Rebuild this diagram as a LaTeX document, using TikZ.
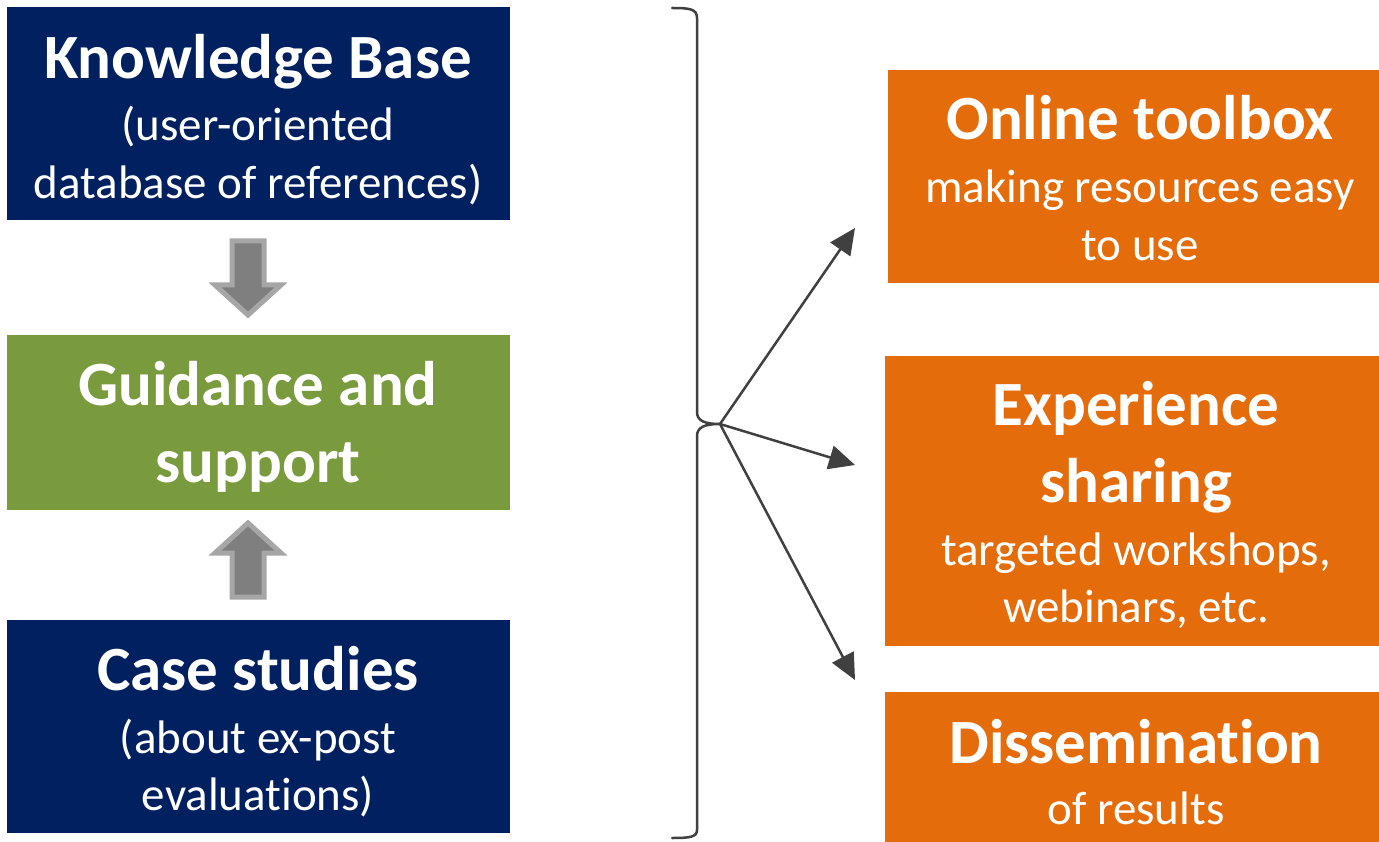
\documentclass[tikz,border=0pt]{standalone}
\usepackage{fontspec}
\setmainfont{Carlito}[Ligatures={NoCommon,NoContextual},RawFeature={-liga;-calt;-clig}]
\usetikzlibrary{arrows.meta}
\definecolor{navy}{HTML}{002060}
\definecolor{olive}{HTML}{7A9A3E}
\definecolor{orng}{HTML}{E46C0A}
\definecolor{dgray}{HTML}{404040}
\definecolor{agray}{HTML}{7F7F7F}
\definecolor{lgray}{HTML}{A6A6A6}
\newcommand{\nolig}{\kern0pt }
\tikzset{
  box/.style={draw=none,inner sep=0pt,anchor=north west},
  big/.style={anchor=base,text=white,inner sep=0pt,font=\fontsize{63}{75}\selectfont\bfseries},
  small/.style={anchor=base,text=white,inner sep=0pt,font=\fontsize{47}{58}\selectfont},
  conn/.style={draw=dgray,line width=2.5pt,-{Triangle[length=26pt,width=24pt]}},
  blockarrow/.style={fill=agray,draw=lgray,line width=5pt,line join=miter},
}
\begin{document}
\begin{tikzpicture}[x=1pt,y=-1pt]
\useasboundingbox (0,0) rectangle (1379,842);
% boxes
\node[box,fill=navy,minimum width=503pt,minimum height=213pt] (kb) at (7,7) {};
\node[box,fill=olive,minimum width=503pt,minimum height=175pt] (gs) at (7,335) {};
\node[box,fill=navy,minimum width=503pt,minimum height=213pt] (cs) at (7,620) {};
\node[box,fill=orng,minimum width=491pt,minimum height=213pt] (ot) at (888,70) {};
\node[box,fill=orng,minimum width=494pt,minimum height=290pt] (es) at (885,356) {};
\node[box,fill=orng,minimum width=494pt,minimum height=150pt] (ds) at (885,692) {};
% texts
\node[big] (t1) at (258,79) {Knowledge Base};
\node[small] (t2) at (258,141) {(user-oriented};
\node[small] (t3) at (258,199) {database of references)};
\node[big] (t4) at (258,405) {Guidance and};
\node[big] (t5) at (258,482) {support};
\node[big] (t6) at (258,690) {Case studies};
\node[small] (t7) at (258,753) {(about ex-post};
\node[small] (t8) at (258,810) {evaluat\nolig ions)};
\node[big] (t9) at (1140,140) {Online toolbox};
\node[small] (t10) at (1140,203) {making resources easy};
\node[small] (t11) at (1140,261) {to use};
\node[big] (t12) at (1136,425) {Experience};
\node[big] (t13) at (1136,502) {sharing};
\node[small] (t14) at (1136,565) {targeted workshops,};
\node[small] (t15) at (1136,622) {webinars, etc.};
\node[big] (t16) at (1136,763) {Disseminat\nolig ion};
\node[small] (t17) at (1136,824) {of results};
% block arrows
\draw[blockarrow] (232,241) -- (264,241) -- (264,285) -- (281,285) -- (248,315) -- (215,285) -- (232,285) -- cycle;
\draw[blockarrow] (232,597) -- (264,597) -- (264,553) -- (281,553) -- (248,523) -- (215,553) -- (232,553) -- cycle;
% brace
\coordinate (tip) at (720,424);
\draw[dgray,line width=2.5pt,line cap=round]
  (672,8) .. controls (690,8) and (697,9) .. (697,18) -- (697,412)
  .. controls (697,421) and (705,424) .. (tip)
  .. controls (705,424) and (697,427) .. (697,436) -- (697,830)
  .. controls (697,837) and (690,838) .. (672,838);
% connectors
\coordinate (e1) at (855,228);
\coordinate (e2) at (855,465);
\coordinate (e3) at (855,680);
\draw[conn] (tip) -- (e1);
\draw[conn] (tip) -- (e2);
\draw[conn] (tip) -- (e3);
\end{tikzpicture}
\end{document}
